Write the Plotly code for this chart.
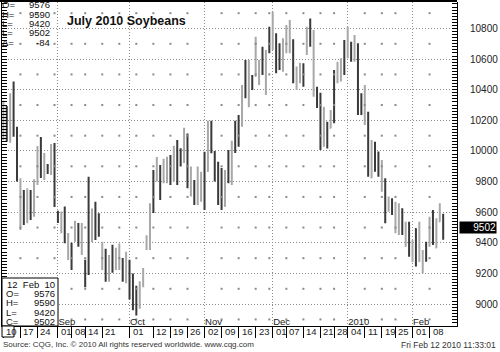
import pandas as pd
import plotly.graph_objects as go

FONT = "Liberation Sans"
DARK = "#3a3a3a"
LIGHT = "#a8a8a8"

holidays = ["2009-09-07", "2009-11-26", "2009-12-25", "2010-01-01", "2010-01-18"]
days = [d.strftime("%Y-%m-%d") for d in pd.bdate_range("2009-08-10", "2010-02-12")
        if d.strftime("%Y-%m-%d") not in holidays]

opens = [10120, 10270, 10100, 10377, 10140, 9520, 9700, 9560, 9720, 9600,
         9800, 10060, 9850, 9900, 9870, 10030, 9600, 9480, 9600, 9300,
         9390, 9420, 9510, 9340, 9280, 9800, 9420, 9650, 9570, 9240,
         9340, 9160, 9370, 9240, 9240, 9290, 9150, 9270, 9180, 9100,
         8990, 9120, 9360, 9370, 9860, 9810, 9900, 9800, 9800, 9960,
         9820, 10060, 10010, 9930, 10100, 9710, 9800, 9660, 9680, 9980,
         9870, 10190, 9990, 9920, 9880, 9640, 10000, 9790, 10190, 10220,
         10170, 10580, 10300, 10490, 10490, 10440, 10670, 10380, 10800, 10670,
         10760, 10690, 10530, 10650, 10650, 10720, 10410, 10450, 10560, 10640,
         10850, 10370, 10400, 10370, 10040, 10180, 10150, 10500, 10450, 10460,
         10710, 10610, 10700, 10590, 10690, 10370, 10180, 10250, 9830, 10050,
         9990, 9740, 9810, 9610, 9680, 9480, 9460, 9620, 9380, 9530,
         9280, 9490, 9280, 9210, 9400, 9380, 9600, 9370, 9540, 9576]
highs = [10330, 10294, 10377, 10453, 10159, 9822, 9745, 9756, 9745, 9815,
         10033, 10091, 9987, 9915, 10046, 10052, 9610, 9604, 9637, 9464,
         9401, 9545, 9530, 9530, 9290, 9832, 9625, 9669, 9593, 9408,
         9362, 9321, 9388, 9368, 9395, 9301, 9342, 9290, 9200, 9120,
         9150, 9236, 9449, 9658, 9876, 9960, 9909, 9950, 9963, 9974,
         10035, 10072, 10018, 10152, 10115, 9898, 9811, 9898, 9865, 9995,
         10198, 10198, 10000, 9930, 9889, 9876, 10007, 10067, 10198, 10235,
         10431, 10594, 10594, 10496, 10746, 10594, 10681, 10660, 10812, 10910,
         10769, 10703, 10736, 10823, 10856, 10729, 10551, 10577, 10573, 10812,
         10866, 10790, 10420, 10380, 10289, 10191, 10268, 10529, 10583, 10605,
         10725, 10812, 10714, 10758, 10703, 10377, 10431, 10257, 10072, 10061,
         9996, 9941, 9822, 9702, 9691, 9669, 9658, 9626, 9538, 9538,
         9419, 9495, 9538, 9353, 9408, 9571, 9615, 9560, 9658, 9590]
lows = [10070, 10061, 10054, 10093, 9800, 9484, 9517, 9528, 9549, 9571,
        9778, 9824, 9811, 9850, 9843, 9634, 9530, 9463, 9398, 9288,
        9223, 9408, 9375, 9321, 9110, 9190, 9405, 9418, 9440, 9223,
        9146, 9146, 9204, 9223, 9223, 9146, 9136, 9030, 8960, 8925,
        8970, 9110, 9353, 9353, 9595, 9800, 9680, 9790, 9789, 9778,
        9800, 9778, 9898, 9922, 9756, 9702, 9647, 9647, 9669, 9615,
        9865, 9985, 9800, 9647, 9615, 9636, 9790, 9778, 9987, 10028,
        10159, 10344, 10285, 10398, 10485, 10431, 10496, 10366, 10638, 10660,
        10507, 10529, 10518, 10638, 10638, 10442, 10398, 10442, 10420, 10627,
        10681, 10355, 10280, 10007, 10028, 10017, 10148, 10181, 10442, 10453,
        10496, 10605, 10583, 10583, 10235, 10235, 10170, 9832, 9822, 9865,
        9832, 9734, 9528, 9604, 9582, 9463, 9452, 9452, 9375, 9310,
        9277, 9245, 9277, 9201, 9277, 9375, 9386, 9364, 9538, 9420]
closes = [10290, 10120, 10340, 10111, 9830, 9600, 9560, 9700, 9600, 9790,
          10000, 9930, 9880, 9870, 10000, 9660, 9550, 9580, 9420, 9440,
          9250, 9520, 9400, 9500, 9130, 9560, 9600, 9450, 9460, 9380,
          9170, 9290, 9230, 9340, 9370, 9170, 9310, 9060, 8990, 8960,
          9120, 9220, 9430, 9640, 9620, 9940, 9720, 9930, 9940, 9800,
          10010, 9800, 9920, 10130, 9780, 9880, 9670, 9870, 9850, 9640,
          10180, 10000, 9820, 9670, 9640, 9860, 9810, 10050, 10000, 10050,
          10410, 10370, 10570, 10410, 10720, 10580, 10510, 10640, 10650, 10890,
          10520, 10540, 10720, 10810, 10840, 10460, 10540, 10560, 10430, 10800,
          10700, 10770, 10300, 10030, 10270, 10050, 10250, 10400, 10570, 10590,
          10520, 10790, 10600, 10740, 10260, 10250, 10410, 9850, 10050, 9880,
          9850, 9920, 9550, 9690, 9600, 9650, 9640, 9470, 9520, 9330,
          9400, 9260, 9520, 9340, 9290, 9560, 9400, 9550, 9640, 9502]

month_starts = ["2009-09-01", "2009-10-01", "2009-11-02", "2009-12-01", "2010-01-04", "2010-02-01"]
month_names = ["Sep", "Oct", "Nov", "Dec", "2010", "Feb"]
label_days = ["2009-08-10", "2009-08-17", "2009-08-24", "2009-09-01", "2009-09-08", "2009-09-14",
              "2009-09-21", "2009-10-01", "2009-10-12", "2009-10-19", "2009-10-26", "2009-11-02",
              "2009-11-09", "2009-11-16", "2009-11-23", "2009-12-01", "2009-12-07", "2009-12-14",
              "2009-12-21", "2009-12-28", "2010-01-04", "2010-01-11", "2010-01-19", "2010-01-25",
              "2010-02-01", "2010-02-08"]
label_text = ["10", "17", "24", "01", "08", "14", "21", "01", "12", "19", "26", "02", "09",
              "16", "23", "01", "07", "14", "21", "28", "04", "11", "19", "25", "01", "08"]
week_days = ["2009-08-17", "2009-08-24", "2009-08-31", "2009-09-08", "2009-09-14", "2009-09-21",
             "2009-09-28", "2009-10-05", "2009-10-12", "2009-10-19", "2009-10-26", "2009-11-09",
             "2009-11-16", "2009-11-23", "2009-11-30", "2009-12-07", "2009-12-14", "2009-12-21",
             "2009-12-28", "2010-01-11", "2010-01-19", "2010-01-25", "2010-02-08"]
price_ticks = [9000, 9200, 9400, 9600, 9800, 10000, 10200, 10400, 10600, 10800]
dot_levels = [8900, 9100, 9300, 9500, 9700, 9900, 10100, 10300, 10500, 10700, 10900]

info_labels = ["O=", "H=", "L=", "L=", "\u0394="]
info_values = ["9576", "9590", "9420", "9502", "-84"]
box_labels = ["O=", "H=", "L=", "C="]
box_values = ["9576", "9590", "9420", "9502"]
last_price = 9502

W, H = 500, 352
L, R, T, B = 2, 43, 2, 26
PW, PH = W - L - R, H - T - B


def px(x):
    return (x - L) / PW


def py(y):
    return (H - B - y) / PH


fig = go.Figure()

fig.add_trace(go.Ohlc(
    x=days, open=opens, high=highs, low=lows, close=closes,
    increasing=dict(line=dict(color=LIGHT, width=2)),
    decreasing=dict(line=dict(color=DARK, width=2)),
    tickwidth=0.3, showlegend=False, hoverinfo="skip"))

fig.add_trace(go.Scatter(
    x=[d for d in week_days for _ in dot_levels],
    y=[v for _ in week_days for v in dot_levels],
    mode="markers", marker=dict(symbol="square", size=2, color="#8a8a8a", line=dict(width=0)),
    hoverinfo="skip", showlegend=False))

fig.add_trace(go.Scatter(x=days, y=closes, xaxis="x2", mode="markers",
                         marker=dict(opacity=0), hoverinfo="skip", showlegend=False))

grid = dict(showgrid=True, gridcolor="#8c8c8c", gridwidth=1, griddash="1px,2px")

fig.update_layout(
    width=W, height=H, margin=dict(l=L, r=R, t=T, b=B),
    paper_bgcolor="white", plot_bgcolor="white", showlegend=False,
    font=dict(family=FONT, color="#222", size=10),
    xaxis=dict(type="category", categoryorder="array", categoryarray=days,
               range=[-0.4, 133.05], rangeslider=dict(visible=False),
               tickvals=month_starts, ticktext=month_names, ticks="",
               ticklabelposition="inside right", ticklabelstandoff=-5,
               tickfont=dict(size=9.5, color="#222"),
               showline=True, linecolor="black", linewidth=1, zeroline=False, **grid),
    xaxis2=dict(type="category", categoryorder="array", categoryarray=days,
                overlaying="x", matches="x", side="bottom", anchor="y",
                tickvals=label_days, ticks="outside", ticklen=11, tickcolor="black",
                tickwidth=1, showticklabels=False, showgrid=False, showline=False),
    yaxis=dict(side="right", range=[8857, 10973], tickvals=price_ticks,
               ticktext=[("\u2007" if v < 10000 else "") + str(v) for v in price_ticks],
               ticks="inside", ticklen=5, tickcolor="black", ticklabelstandoff=10,
               tickfont=dict(size=10, color="#222"),
               minor=dict(dtick=20, tick0=0, ticks="inside", ticklen=3, tickcolor="black", showgrid=False),
               showline=True, linecolor="black", linewidth=1, mirror="allticks", zeroline=False, **grid),
)

shapes = [
    dict(type="line", xref="paper", yref="paper", x0=px(0), x1=1, y0=py(1), y1=py(1),
         line=dict(color="black", width=2)),
    dict(type="rect", xref="paper", yref="paper", x0=px(2), x1=px(58), y0=py(326), y1=py(278),
         fillcolor="white", line=dict(color="black", width=1), layer="above"),
    dict(type="rect", xref="paper", yref="paper", x0=px(2), x1=px(14), y0=py(337), y1=py(326),
         fillcolor="white", line=dict(color="black", width=1), layer="above"),
]

ann = []
ys = [4.5, 14, 23.5, 33, 42.5]
for lab, val, y in zip(info_labels, info_values, ys):
    ann.append(dict(text=lab, x=px(0), y=py(y), xanchor="left", yanchor="middle", showarrow=False,
                    xref="paper", yref="paper", font=dict(size=9.5, color="#111")))
    ann.append(dict(text=val, x=px(52), y=py(y), xanchor="right", yanchor="middle", showarrow=False,
                    xref="paper", yref="paper", font=dict(size=9.5, color="#111")))

ann.append(dict(text="<b>July 2010 Soybeans</b>", x=px(65), y=py(20.5), xanchor="left", yanchor="middle",
                showarrow=False, xref="paper", yref="paper", font=dict(size=12.5, color="#111")))

ann.append(dict(text="12  Feb  10", x=px(5), y=py(284), xanchor="left", yanchor="middle", showarrow=False,
                xref="paper", yref="paper", font=dict(size=9.5, color="#111")))
for lab, val, y in zip(box_labels, box_values, [293.5, 302.5, 312, 321]):
    ann.append(dict(text=lab, x=px(4), y=py(y), xanchor="left", yanchor="middle", showarrow=False,
                    xref="paper", yref="paper", font=dict(size=9.5, color="#111")))
    ann.append(dict(text=val, x=px(57), y=py(y), xanchor="right", yanchor="middle", showarrow=False,
                    xref="paper", yref="paper", font=dict(size=9.5, color="#111")))

for d, t in zip(label_days, label_text):
    ann.append(dict(text=t, x=d, xref="x", y=py(331.5), yref="paper", xanchor="left", yanchor="middle",
                    xshift=1, showarrow=False, font=dict(size=9.5, color="#222")))

ann.append(dict(text=str(last_price), x=px(497), xref="paper", y=last_price, yref="y",
                xanchor="right", yanchor="middle", showarrow=False, width=36, height=11, align="right",
                bgcolor="black", font=dict(size=10, color="white"), borderpad=0))

ann.append(dict(text="Source: CQG, Inc. \u00a9 2010 All rights reserved worldwide. www.cqg.com",
                x=px(1), y=py(344), xref="paper", yref="paper", xanchor="left", yanchor="middle",
                showarrow=False, font=dict(size=8, color="#333")))
ann.append(dict(text="Fri Feb 12 2010 11:33:01", x=px(498), y=py(345), xref="paper", yref="paper",
                xanchor="right", yanchor="middle", showarrow=False, font=dict(size=8.5, color="#333")))

fig.update_layout(shapes=shapes, annotations=ann)
fig.write_html("out.html")
